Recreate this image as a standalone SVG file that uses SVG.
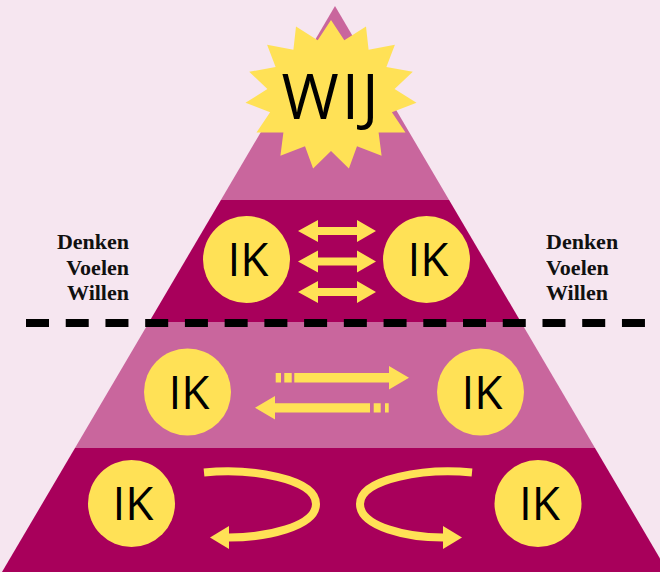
<svg xmlns="http://www.w3.org/2000/svg" xmlns:xlink="http://www.w3.org/1999/xlink" width="660" height="572" viewBox="0 0 660 572">
<style>
.light{fill:#C9669D}
.dark{fill:#A8005B}
.yel{fill:#FFE156}
.ik{font-family:"Open Sans","Noto Sans",sans-serif;font-size:46px;fill:#000;text-anchor:middle}
.wij{font-family:"Open Sans","Noto Sans",sans-serif;font-size:62px;fill:#000;text-anchor:middle;letter-spacing:3px}
.lbl{font-family:"Liberation Serif",serif;font-weight:bold;font-size:22px;fill:#111}
.curve{fill:none;stroke:#FFE156;stroke-width:8}
</style>
<defs>
<path id="dbl" d="M298,0 L318,-11 L318,-4 L357,-4 L357,-11 L376,0 L357,11 L357,4 L318,4 L318,11 Z"/>
</defs>
<rect width="660" height="572" fill="#F6E6F0"/>
<g id="pyramid">
<polygon class="light" points="335,6 449.1,200 220.9,200"/>
<polygon class="dark" points="220.9,200 449.1,200 520.9,322 149.1,322"/>
<polygon class="light" points="149.1,322 520.9,322 595,448 75,448"/>
<polygon class="dark" points="75,448 595,448 668,572 2,572"/>
</g>
<g id="wij">
<polygon class="yel" points="331,20 344.3,40.2 366,26.5 368.6,49.7 394.9,44.8 386.4,67 412.8,71.8 394.6,89.1 416.5,102.8 391.9,112.3 405.5,132.5 378.6,132.5 381.6,155.7 357,146.2 348.9,168.4 331,151 313.1,168.4 305,146.2 280.4,155.7 283.4,132.5 256.5,132.5 270.1,112.3 245.5,102.8 267.4,89.1 249.2,71.8 275.6,67 267.1,44.8 293.4,49.7 296,26.5 317.7,40.2"/>
<text class="wij" x="331.5" y="119">WIJ</text>
</g>
<g id="dashline">
<line x1="26" y1="323" x2="646" y2="323" stroke="#000" stroke-width="8" stroke-dasharray="23 16.73"/>
</g>
<g id="labels-left">
<text class="lbl" x="129" y="249" text-anchor="end">Denken</text>
<text class="lbl" x="129" y="275" text-anchor="end">Voelen</text>
<text class="lbl" x="129" y="300" text-anchor="end">Willen</text>
</g>
<g id="labels-right">
<text class="lbl" x="546" y="249">Denken</text>
<text class="lbl" x="546" y="275">Voelen</text>
<text class="lbl" x="546" y="300">Willen</text>
</g>
<g id="ik1"><circle class="yel" cx="246.5" cy="259.5" r="43.5"/><text class="ik" x="248" y="276">IK</text></g>
<g id="ik2"><circle class="yel" cx="426.5" cy="259.5" r="43.5"/><text class="ik" x="428" y="276">IK</text></g>
<g id="ik3"><circle class="yel" cx="187.5" cy="392" r="43.5"/><text class="ik" x="189" y="408.5">IK</text></g>
<g id="ik4"><circle class="yel" cx="480.5" cy="392" r="43.5"/><text class="ik" x="482" y="408.5">IK</text></g>
<g id="ik5"><circle class="yel" cx="131.5" cy="503.5" r="43.5"/><text class="ik" x="133" y="520">IK</text></g>
<g id="ik6"><circle class="yel" cx="538" cy="503.5" r="43.5"/><text class="ik" x="539.5" y="520">IK</text></g>
<g id="connectors">
<use xlink:href="#dbl" href="#dbl" class="yel" y="231"/>
<use xlink:href="#dbl" href="#dbl" class="yel" y="261.5"/>
<use xlink:href="#dbl" href="#dbl" class="yel" y="292"/>
<path class="yel" d="M275.7,373 h5.3 v9.4 h-5.3 Z M284.3,373 h7.4 v9.4 h-7.4 Z M294.3,373 H389 V366 L409,377.7 L389,389.4 V382.4 H294.3 Z"/>
<path class="yel" d="M255,407.8 L275,396 V403.2 H370 V412.4 H275 V419.6 Z M373.7,403.2 h7 v9.2 h-7 Z M385,403.2 h3.7 v9.2 h-3.7 Z"/>
<path class="curve" d="M204,472.5 C250,468 316,478 316,504 C316,527 265,537.5 229,537.5"/>
<polygon class="yel" points="210,537.5 229,526 229,549"/>
<path class="curve" d="M472,472.5 C426,468 360,478 360,504 C360,527 408,537.5 443,537.5"/>
<polygon class="yel" points="462,537.5 443,526 443,549"/>
</g>
</svg>
